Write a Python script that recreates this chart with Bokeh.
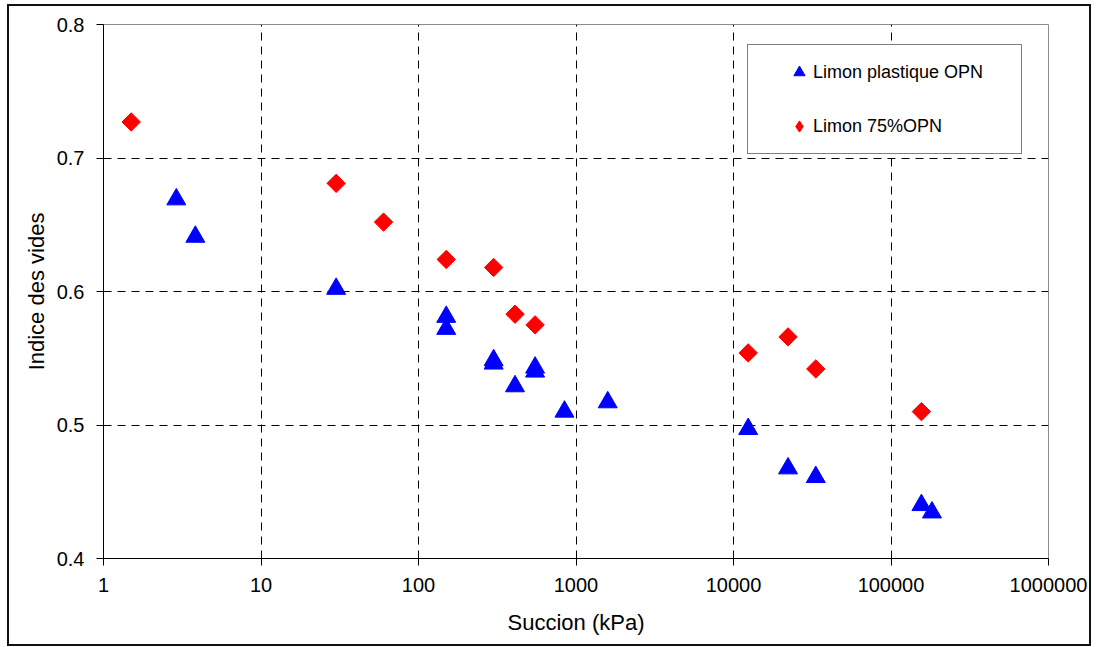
import numpy as np
from bokeh.plotting import figure
from bokeh.models import Range1d, FixedTicker, Legend, LegendItem, ColumnDataSource
from bokeh.transform import dodge
from bokeh.embed import file_html
from bokeh.resources import INLINE

# ---- data ----
plastique_succion = [2.9, 3.83, 30, 150, 150, 300, 300, 410, 550, 550, 845, 1590,
                     12400, 22200, 33300, 156000, 182000]
plastique_e = [0.671, 0.643, 0.604, 0.583, 0.574, 0.5505, 0.548, 0.531, 0.545, 0.542,
               0.512, 0.519, 0.499, 0.4695, 0.463, 0.442, 0.4365]
opn75_succion = [1.5, 30, 60, 150, 300, 410, 550, 12400, 22200, 33300, 156000]
opn75_e = [0.727, 0.681, 0.652, 0.624, 0.618, 0.583, 0.575, 0.554, 0.566, 0.542, 0.510]

series_names = ["Limon plastique OPN", "Limon 75%OPN"]
x_ticks = [1, 10, 100, 1000, 10000, 100000, 1000000]
x_tick_labels = ["1", "10", "100", "1000", "10000", "100000", "1000000"]
y_ticks = [0.4, 0.5, 0.6, 0.7, 0.8]
y_tick_labels = ["0.4", "0.5", "0.6", "0.7", "0.8"]
x_title = "Succion (kPa)"
y_title = "Indice des vides"

FONT = "Liberation Sans"

p = figure(width=1080, height=638, x_axis_type="log",
           x_range=Range1d(x_ticks[0], x_ticks[-1]),
           y_range=Range1d(y_ticks[0], y_ticks[-1]),
           output_backend="svg", toolbar_location=None,
           min_border_left=94, min_border_right=45, min_border_top=18, min_border_bottom=90,
           background_fill_color="white", border_fill_color="white")
p.styles = {"border": "2px solid #111111", "box-sizing": "content-box",
            "margin-left": "7px", "margin-top": "4px"}

src_blue = ColumnDataSource(dict(x=plastique_succion, y=plastique_e))
src_red = ColumnDataSource(dict(x=opn75_succion, y=opn75_e))

# red key renderer (diamond shape for the legend key), hidden under the rotated squares
r_red_key = p.scatter(x="x", y="y", source=src_red, marker="diamond", size=12,
                      fill_color="#FF0000", line_color="#FF0000", line_width=1)
r_blue = p.scatter(x="x", y=dodge("y", -0.002), source=src_blue, marker="triangle", size=19,
                   fill_color="#0000FF", line_color="#0000FF", line_width=1)
r_red = p.scatter(x="x", y="y", source=src_red, marker="square", angle=np.pi / 4, size=13,
                  fill_color="#FF0000", line_color="#FF0000", line_width=1)

# axes
p.xaxis.ticker = FixedTicker(ticks=x_ticks, minor_ticks=[])
p.yaxis.ticker = FixedTicker(ticks=y_ticks, minor_ticks=[])
p.xaxis.major_label_overrides = {t: l for t, l in zip(x_ticks, x_tick_labels)}
p.yaxis.major_label_overrides = {t: l for t, l in zip(y_ticks, y_tick_labels)}
p.xaxis.axis_label = x_title
p.yaxis.axis_label = y_title
for ax in (p.xaxis, p.yaxis):
    ax.axis_line_color = "black"
    ax.axis_line_width = 1
    ax.major_tick_line_color = "black"
    ax.major_tick_out = 7
    ax.major_tick_in = 0
    ax.minor_tick_line_color = None
    ax.major_label_text_font = FONT
    ax.major_label_text_font_size = "20px"
    ax.major_label_text_color = "black"
    ax.major_label_standoff = 12
    ax.axis_label_text_font = FONT
    ax.axis_label_text_font_size = "22px"
    ax.axis_label_text_font_style = "normal"
    ax.axis_label_text_color = "black"
p.xaxis.axis_label_standoff = 15
p.yaxis.axis_label_standoff = 5

# grid
p.xgrid.ticker = FixedTicker(ticks=x_ticks[1:-1])
p.ygrid.ticker = FixedTicker(ticks=y_ticks[1:-1])
for g in (p.xgrid, p.ygrid):
    g.grid_line_color = "black"
    g.grid_line_dash = "8 6"
    g.grid_line_width = 1

p.outline_line_color = "#8c8c8c"
p.outline_line_width = 1

legend = Legend(items=[LegendItem(label=series_names[0], renderers=[r_blue]),
                       LegendItem(label=series_names[1], renderers=[r_red_key])],
                location=(644, 404), padding=12, spacing=24, margin=0,
                title=" ", title_location="left", title_text_font_size="16px",
                title_standoff=7,
                glyph_width=28, glyph_height=30, label_standoff=0, label_width=196,
                label_text_font=FONT, label_text_font_size="18px", label_text_color="black",
                border_line_color="black", border_line_width=1,
                background_fill_color="white", background_fill_alpha=1)
p.add_layout(legend)

open("out.html", "w").write(file_html(p, INLINE))
